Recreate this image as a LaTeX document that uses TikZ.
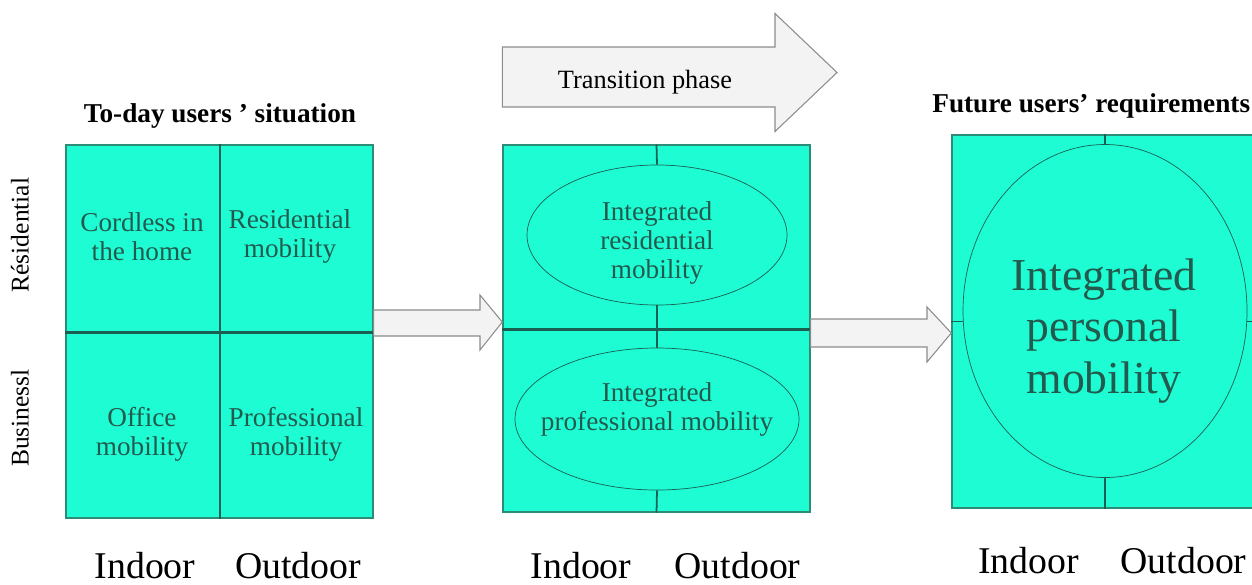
\documentclass[tikz,border=0pt]{standalone}
\usepackage{fontspec}
\setmainfont{Liberation Serif}
\usetikzlibrary{shapes.geometric}

\definecolor{cellfill}{RGB}{30,252,212}
\definecolor{cellline}{RGB}{45,140,120}
\definecolor{divline}{RGB}{25,95,82}
\definecolor{celltext}{RGB}{35,90,78}
\definecolor{arrowfill}{RGB}{243,243,243}
\definecolor{arrowline}{RGB}{140,140,140}

\tikzset{
  cell/.style={draw=cellline, fill=cellfill, line width=0.8pt, minimum width=3.07cm, minimum height=3.73cm, inner sep=0pt},
  half/.style={draw=cellline, fill=cellfill, line width=0.8pt, minimum width=6.14cm, minimum height=3.67cm, inner sep=0pt},
  oval/.style={ellipse, draw=divline, line width=0.4pt, inner sep=0pt},
  celltxt/.style={align=center, text=celltext, inner sep=0pt, font=\fontsize{15.5}{16.5}\selectfont},
  divider/.style={draw=divline, line width=1.3pt},
  tick/.style={draw=divline, line width=1pt},
  blockarrow/.style={draw=arrowline, fill=arrowfill, line width=0.6pt, line join=miter},
  axis/.style={anchor=base, inner sep=0pt, font=\fontsize{21.5}{24}\selectfont},
  heading/.style={inner sep=0pt, font=\bfseries\fontsize{15.5}{17}\selectfont},
  sidetxt/.style={rotate=90, inner sep=0pt, font=\fontsize{14.5}{16}\selectfont}
}

\begin{document}
\begin{tikzpicture}
  \useasboundingbox (0,0) rectangle (25.04,-11.68);
  \clip (0,0) rectangle (25.04,-11.68);

  % Today grid
  \node[cell] (homecell) at (2.855,-4.765) {};
  \node[cell] (rescell) at (5.925,-4.765) {};
  \node[cell] (officecell) at (2.855,-8.495) {};
  \node[cell] (profcell) at (5.925,-8.495) {};
  \draw[divider] (homecell.north east) -- (officecell.south east);
  \draw[divider, line width=1.6pt] (homecell.south west) -- (rescell.south east);

  \node[celltxt] (home) at (2.84,-4.73) {Cordless in\\the home};
  \node[celltxt] (resmob) at (5.80,-4.73) {Residential\\mobility};
  \node[celltxt] (office) at (2.84,-8.68) {Office\\mobility};
  \node[celltxt] (profmob) at (5.92,-8.68) {Professional\\mobility};

  \node[heading, anchor=base] (today) at (4.40,-2.44) {To-day users ' situation};
  \node[sidetxt] (residential) at (0.40,-4.70) {Résidential};
  \node[sidetxt] (business) at (0.40,-8.36) {Businessl};

  % Transition box
  \node[half] (reshalf) at (13.13,-4.735) {};
  \node[half] (prohalf) at (13.13,-8.405) {};
  \draw[divider, line width=1.6pt] (reshalf.south west) -- (reshalf.south east);
  \node[oval, minimum width=5.2cm, minimum height=2.8cm] (resoval) at (13.14,-4.70) {};
  \node[oval, minimum width=5.68cm, minimum height=2.84cm] (prooval) at (13.14,-8.38) {};
  \draw[tick] (reshalf.north) -- (resoval.north);
  \draw[tick] (resoval.south) -- (prooval.north);
  \draw[tick] (prooval.south) -- (prohalf.south);
  \node[celltxt] (restext) at (13.14,-4.86) {Integrated\\residential\\mobility};
  \node[celltxt] (protext) at (13.14,-8.18) {Integrated\\professional mobility};

  % Future box
  \node[cell, minimum width=6.12cm, minimum height=7.46cm] (futbox) at (22.10,-6.43) {};
  \node[oval, minimum width=5.68cm, minimum height=6.66cm] (persoval) at (22.10,-6.22) {};
  \draw[tick] (futbox.north) -- (persoval.north);
  \draw[tick] (persoval.south) -- (futbox.south);
  \draw[tick] (futbox.west) -- (futbox.west -| persoval.west);
  \draw[tick] (futbox.east) -- (futbox.east -| persoval.east);
  \node[celltxt, font=\fontsize{26}{29.5}\selectfont] (personal) at (22.08,-6.62) {Integrated\\personal\\mobility};
  \node[heading, anchor=base west] (future) at (18.64,-2.24) {Future users' requirements};

  % Arrows
  \draw[blockarrow] (reshalf.north west |- 0,-0.94) -- (15.50,-0.94) -- (15.50,-0.27)
    -- (16.74,-1.45) -- (15.50,-2.63) -- (15.50,-2.14) -- (reshalf.north west |- 0,-2.14) -- cycle;
  \node[anchor=base, font=\fontsize{15}{17}\selectfont] (transition) at (12.90,-1.77) {Transition phase};

  \draw[blockarrow] (rescell.east |- 0,-6.20) -- (9.60,-6.20) -- (9.60,-5.90)
    -- (reshalf.west |- 0,-6.44) -- (9.60,-7.00) -- (9.60,-6.72) -- (rescell.east |- 0,-6.72) -- cycle;
  \draw[blockarrow] (reshalf.east |- 0,-6.38) -- (18.54,-6.38) -- (18.54,-6.14)
    -- (futbox.west |- 0,-6.66) -- (18.54,-7.24) -- (18.54,-6.94) -- (reshalf.east |- 0,-6.94) -- cycle;

  % Axis labels
  \node[axis] (in1) at (2.90,-11.56) {Indoor};
  \node[axis] (out1) at (5.96,-11.56) {Outdoor};
  \node[axis] (in2) at (11.62,-11.56) {Indoor};
  \node[axis] (out2) at (14.75,-11.56) {Outdoor};
  \node[axis] (in3) at (20.57,-11.46) {Indoor};
  \node[axis] (out3) at (23.67,-11.46) {Outdoor};
\end{tikzpicture}
\end{document}
